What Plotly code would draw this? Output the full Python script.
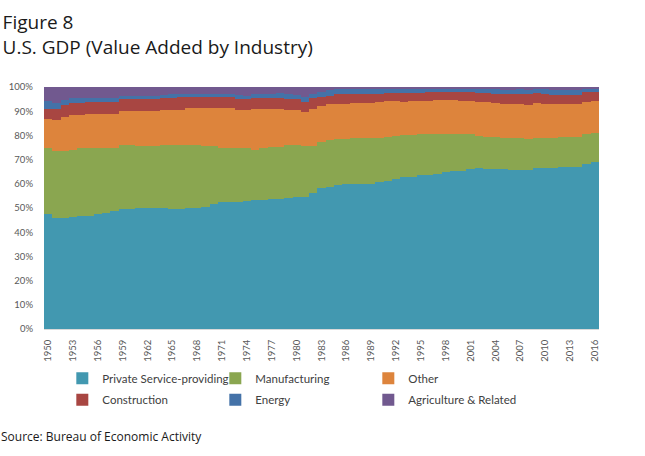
import plotly.graph_objects as go

years = list(range(1950, 2017))

private_services = [47.5, 45.7, 45.9, 46.3, 46.8, 46.8, 47.5, 48.1, 48.8, 49.5,
                    49.5, 50.2, 50.2, 49.9, 49.9, 49.6, 49.6, 50.2, 50.2, 50.6,
                    51.6, 52.3, 52.3, 52.3, 52.7, 53.3, 53.3, 53.7, 53.7, 54.3,
                    54.6, 54.6, 56.4, 58.2, 58.6, 59.5, 60.1, 60.1, 60.1, 60.1,
                    60.8, 61.3, 61.9, 62.8, 62.8, 63.7, 63.7, 64.2, 64.7, 65.4,
                    65.4, 66.1, 66.5, 66.1, 66.1, 66.1, 65.8, 65.8, 65.8, 66.5,
                    66.4, 66.4, 66.8, 66.8, 66.8, 68.1, 69.2]
manufacturing = [27.1, 28.0, 27.8, 27.8, 27.8, 28.2, 27.5, 26.9, 25.8, 26.4,
                 26.4, 25.4, 25.4, 25.7, 26.0, 26.5, 26.5, 25.7, 25.7, 24.9,
                 23.9, 22.7, 22.7, 22.3, 21.9, 20.8, 21.3, 21.7, 21.7, 21.6,
                 21.5, 21.2, 19.3, 19.2, 19.4, 18.9, 18.3, 18.7, 18.7, 19.0,
                 18.3, 18.1, 17.7, 17.2, 17.2, 16.7, 16.7, 16.5, 16.0, 15.3,
                 15.3, 14.3, 13.3, 13.3, 13.3, 13.0, 13.3, 13.0, 12.6, 12.3,
                 12.4, 12.7, 12.6, 12.6, 12.6, 12.3, 11.6]
other = [12.1, 12.7, 14.1, 14.4, 13.9, 14.0, 14.0, 14.0, 14.4, 14.2,
         14.2, 14.5, 14.5, 14.5, 14.8, 14.6, 14.6, 15.3, 15.3, 15.7,
         15.7, 16.2, 16.2, 15.8, 15.8, 16.7, 16.2, 15.4, 15.4, 14.5,
         14.3, 13.9, 15.1, 14.8, 14.8, 14.7, 14.7, 14.7, 14.7, 14.4,
         14.7, 14.8, 14.6, 14.0, 14.2, 13.8, 13.8, 13.8, 13.8, 13.8,
         13.5, 13.8, 14.2, 14.4, 14.1, 14.0, 13.7, 14.0, 14.0, 14.5,
         14.3, 14.0, 13.4, 13.4, 13.4, 13.4, 13.4]
construction = [4.1, 4.6, 4.8, 4.8, 4.8, 4.8, 4.8, 4.8, 4.8, 4.8,
                4.8, 4.8, 4.8, 4.8, 4.6, 4.6, 5.2, 4.7, 4.7, 4.7,
                4.7, 4.7, 4.7, 4.5, 4.5, 4.5, 4.5, 4.5, 4.5, 4.5,
                4.5, 4.3, 4.5, 3.7, 3.5, 3.9, 3.9, 3.5, 3.5, 3.5,
                3.4, 3.5, 3.5, 3.7, 3.5, 3.5, 3.7, 3.5, 3.5, 3.5,
                3.8, 3.7, 3.7, 3.7, 3.7, 3.9, 4.2, 4.2, 4.6, 4.2,
                4.1, 3.7, 4.0, 3.9, 3.9, 4.2, 3.9]
energy = [3.4, 2.5, 1.9, 2.0, 2.0, 1.5, 1.5, 1.5, 1.5, 1.4,
          1.4, 1.4, 1.4, 1.4, 1.2, 1.7, 1.1, 1.1, 1.1, 1.1,
          1.1, 1.1, 1.1, 1.9, 1.4, 1.7, 1.7, 1.9, 2.1, 2.1,
          1.6, 2.0, 1.7, 2.1, 2.5, 2.0, 2.2, 2.2, 2.2, 2.2,
          2.0, 1.6, 1.6, 1.6, 1.6, 1.6, 1.5, 1.4, 1.5, 1.5,
          1.4, 1.4, 1.6, 1.7, 2.0, 1.9, 1.9, 2.0, 1.8, 1.7,
          1.8, 2.0, 2.1, 2.2, 2.2, 1.3, 1.3]
agriculture = [5.8, 6.5, 5.5, 4.7, 4.7, 4.7, 4.7, 4.7, 4.7, 3.7,
               3.7, 3.7, 3.7, 3.7, 3.5, 3.0, 3.0, 3.0, 3.0, 3.0,
               3.0, 3.0, 3.0, 3.2, 3.7, 3.0, 3.0, 2.8, 2.6, 3.0,
               3.5, 4.0, 3.0, 2.0, 1.2, 1.0, 0.8, 0.8, 0.8, 0.8,
               0.8, 0.7, 0.7, 0.7, 0.7, 0.7, 0.6, 0.6, 0.5, 0.5,
               0.6, 0.7, 0.7, 0.8, 0.8, 1.1, 1.1, 1.0, 1.2, 0.8,
               1.0, 1.2, 1.1, 1.1, 1.1, 0.7, 0.6]

tick_years = [1950, 1953, 1956, 1959, 1962, 1965, 1968, 1971, 1974, 1977, 1980,
              1983, 1986, 1989, 1992, 1995, 1998, 2001, 2004, 2007, 2010, 2013, 2016]
y_ticks = [0, 10, 20, 30, 40, 50, 60, 70, 80, 90, 100]

series = [
    ("Private Service-providing", private_services, "#4298B0", "legend"),
    ("Manufacturing", manufacturing, "#8AA650", "legend"),
    ("Other", other, "#DD843C", "legend"),
    ("Construction", construction, "#A84642", "legend2"),
    ("Energy", energy, "#4472A8", "legend2"),
    ("Agriculture & Related", agriculture, "#71598F", "legend2"),
]

fig = go.Figure()
for name, vals, color, lg in series:
    fig.add_trace(go.Bar(
        x=years, y=vals, name=name, legend=lg,
        marker=dict(color=color, line=dict(width=0)),
        hovertemplate="%{x}: %{y:.1f}%<extra>" + name + "</extra>",
    ))

legend_common = dict(
    orientation="h", xanchor="left", yanchor="top",
    entrywidth=108, entrywidthmode="pixels",
    font=dict(family="Lato", size=11.5, color="#404040"),
    bgcolor="rgba(0,0,0,0)", borderwidth=0,
    traceorder="normal",
)

fig.update_layout(
    width=645, height=456, autosize=False,
    margin=dict(l=44, r=46, t=87, b=127),
    paper_bgcolor="white", plot_bgcolor="white",
    barmode="stack", barnorm="percent", bargap=0,
    title=dict(
        text="Figure 8<br>U.S. GDP (Value Added by Industry)",
        x=0.004, xanchor="left", xref="container",
        y=0.9355, yanchor="top", yref="container",
        font=dict(family="Open Sans", size=19, color="#1a1a1a"),
    ),
    xaxis=dict(
        range=[1949.5, 2016.5], automargin=False,
        tickmode="array", tickvals=tick_years,
        ticktext=[str(t) for t in tick_years],
        tickangle=-90, ticks="", showgrid=False, zeroline=False,
        showline=True, linecolor="#d9d9d9", linewidth=1,
        tickfont=dict(family="Lato", size=9.5, color="#595959"),
        ticklabelstandoff=6,
    ),
    yaxis=dict(
        range=[0, 100], automargin=False,
        tickmode="array", tickvals=y_ticks,
        ticktext=[f"{v}%" for v in y_ticks],
        ticks="", showgrid=False, zeroline=False, showline=False,
        tickfont=dict(family="Lato", size=9.5, color="#595959"),
        ticklabelstandoff=10,
    ),
    legend=dict(x=0.033, y=-0.1435, **legend_common),
    legend2=dict(x=0.033, y=-0.2323, **legend_common),
    annotations=[dict(
        text="Source: Bureau of Economic Activity",
        xref="paper", yref="paper", x=-0.081, y=-0.446,
        xanchor="left", yanchor="middle", showarrow=False,
        font=dict(family="Open Sans", size=12, color="#1a1a1a"),
    )],
    showlegend=True,
)

fig.write_html("out.html", config={"displayModeBar": False},
               post_script="document.body.style.margin='0px';")
